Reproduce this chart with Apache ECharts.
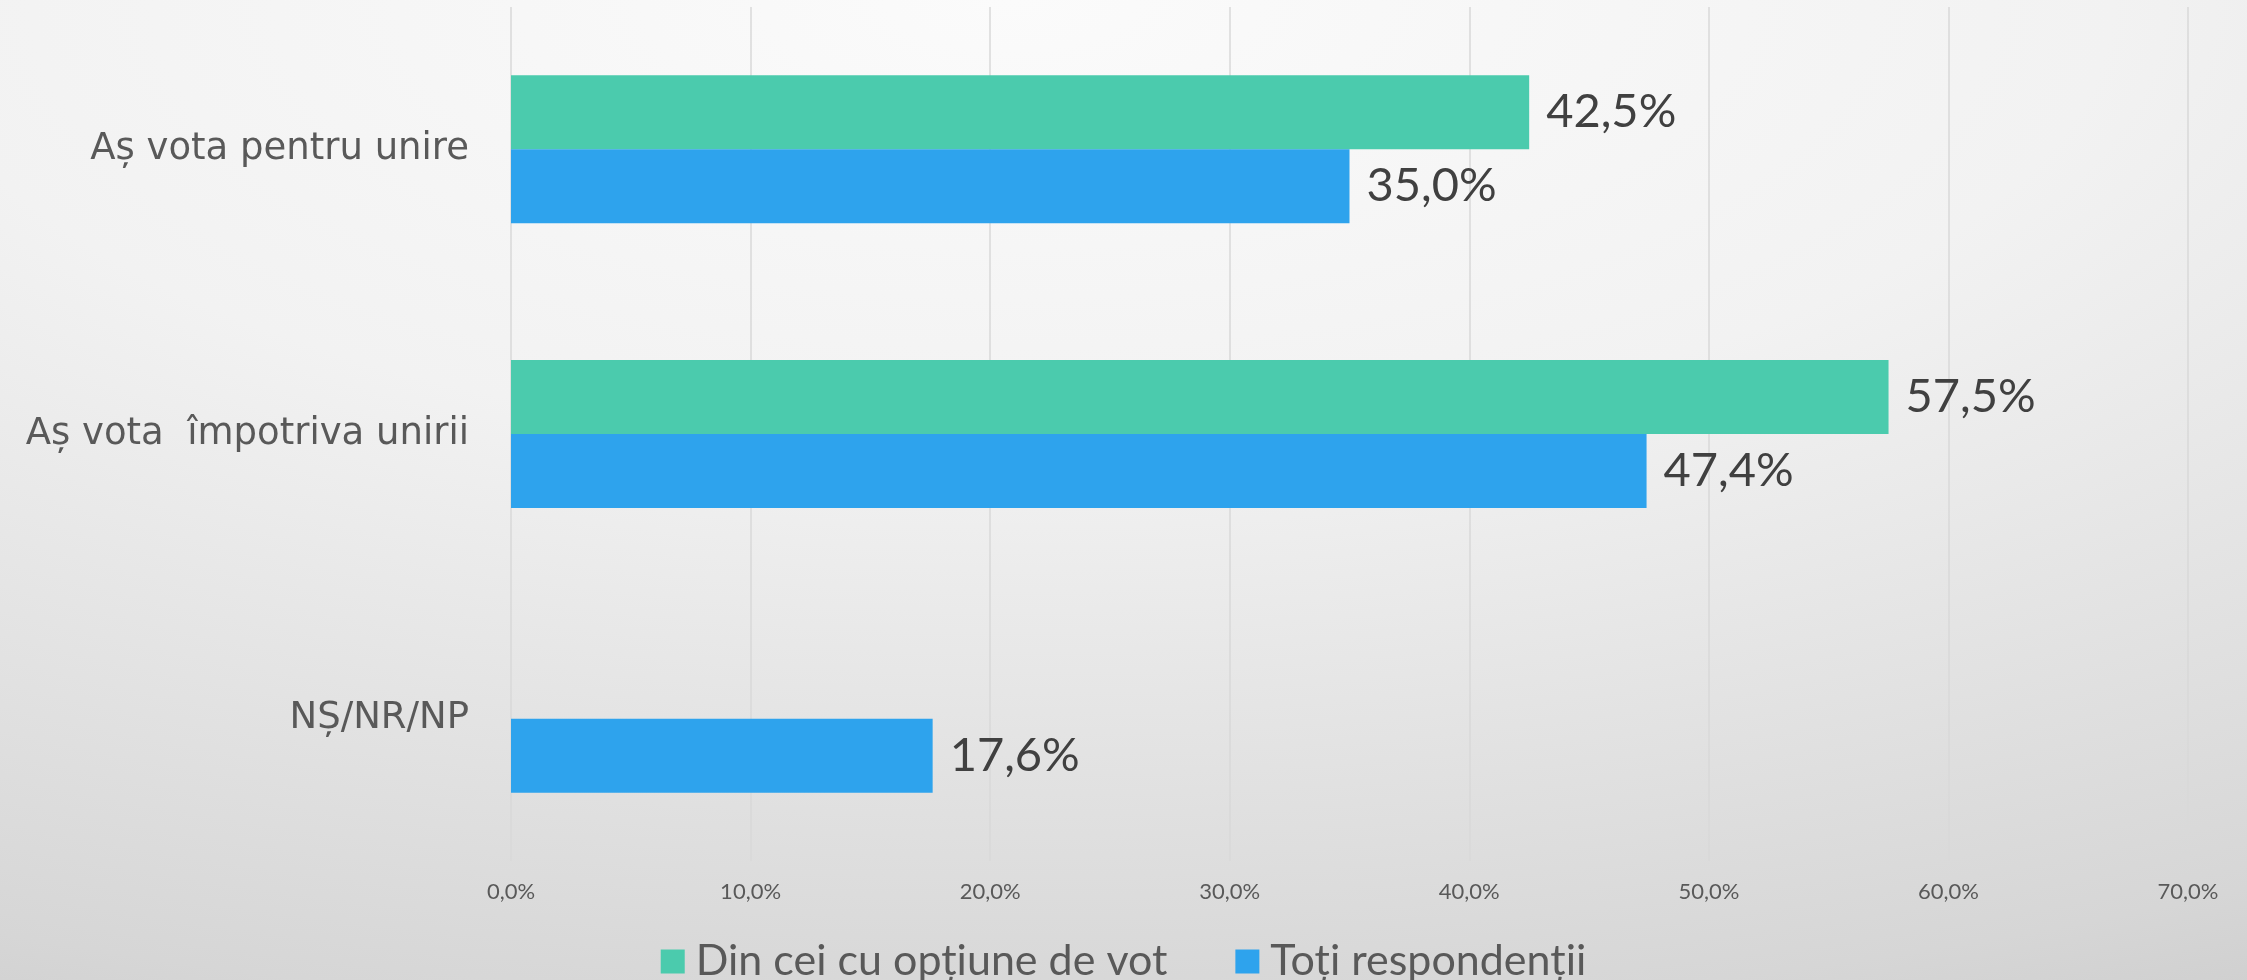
<!DOCTYPE html>
<html>
<head>
<meta charset="utf-8">
<script src="https://cdn.jsdelivr.net/npm/echarts@6/dist/echarts.min.js"></script>
<style>
  html, body { margin: 0; padding: 0; }
  body {
    width: 2247px; height: 980px;
    background: radial-gradient(ellipse 140% 130% at 45% 0%, #fbfbfb 0%, #f2f2f2 35%, #d6d6d6 80%, #c4c4c4 100%);
  }
  #chart { width: 2247px; height: 980px; }
</style>
</head>
<body>
<div id="chart"></div>
<script>
// categorii si valori (%)
var categories = ['Aș vota pentru unire', 'Aș vota  împotriva unirii', 'NȘ/NR/NP']
var seriesNames = ['Din cei cu opțiune de vot', 'Toți respondenții']
var optiuneVot = [42.5, 57.5, null]
var totiResp = [35.0, 47.4, 17.6]
var axisMin = 0
var axisMax = 70
var axisStep = 10

var font = 'Lato, "Noto Sans", sans-serif'
var wideFont = '"DejaVu Sans", sans-serif'
function pct (v) { return v.toFixed(1).replace('.', ',') + '%' }

var myChart = echarts.init(document.getElementById('chart'))
myChart.setOption({
  backgroundColor: 'transparent',
  textStyle: { fontFamily: font },
  grid: { left: 511, right: 59, top: 7, bottom: 119 },
  legend: {
    data: seriesNames,
    top: 935,
    left: 'center',
    icon: 'rect',
    itemWidth: 24,
    itemHeight: 24,
    itemGap: 68,
    textStyle: { fontSize: 43, color: '#595959', fontFamily: font, padding: [0, 0, 0, 6] }
  },
  xAxis: {
    type: 'value',
    min: axisMin,
    max: axisMax,
    interval: axisStep,
    axisLine: { show: false },
    axisTick: { show: false },
    splitLine: { lineStyle: { color: '#d9d9d9', width: 1.5 } },
    axisLabel: {
      formatter: function (v) { return pct(v) },
      fontSize: 22,
      color: '#595959',
      margin: 20
    }
  },
  yAxis: {
    type: 'category',
    data: categories,
    inverse: true,
    axisLine: { show: false },
    axisTick: { show: false },
    axisLabel: { fontSize: 37, color: '#595959', margin: 42, fontFamily: wideFont, padding: [14, 0, 0, 0] }
  },
  series: [
    {
      name: seriesNames[0],
      type: 'bar',
      data: optiuneVot,
      barGap: '0%',
      barCategoryGap: '48%',
      itemStyle: { color: '#4bcbad' },
      label: {
        show: true,
        position: 'right',
        distance: 17,
        fontSize: 47,
        color: '#404040',
        padding: [8, 0, 0, 0],
        formatter: function (p) { return pct(p.value) }
      }
    },
    {
      name: seriesNames[1],
      type: 'bar',
      data: totiResp,
      barGap: '0%',
      barCategoryGap: '48%',
      itemStyle: { color: '#2ea3ed' },
      label: {
        show: true,
        position: 'right',
        distance: 17,
        fontSize: 47,
        color: '#404040',
        padding: [8, 0, 0, 0],
        formatter: function (p) { return pct(p.value) }
      }
    }
  ]
})
</script>
</body>
</html>
